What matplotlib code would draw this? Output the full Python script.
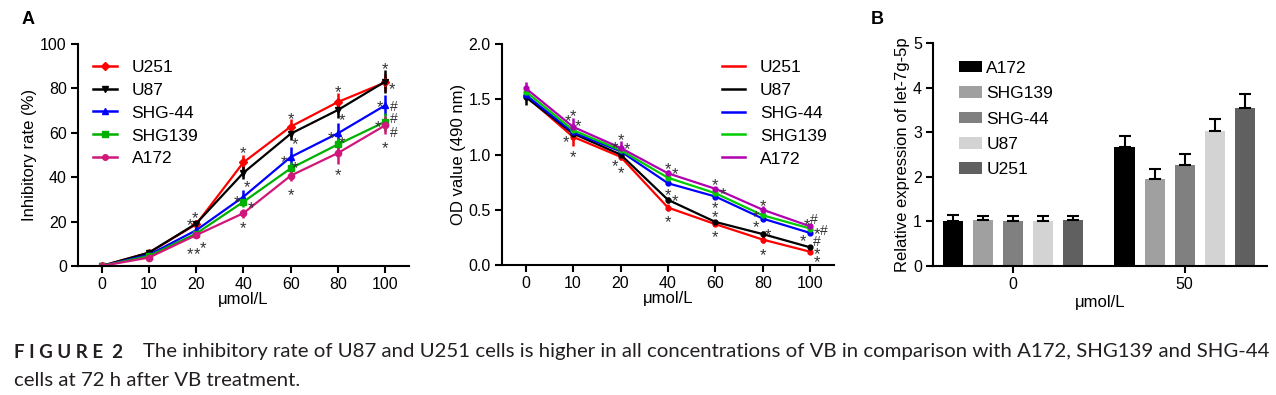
import numpy as np
import matplotlib
matplotlib.use('Agg')
import matplotlib.pyplot as plt
import matplotlib.transforms as mtransforms
from matplotlib.patches import Patch
from matplotlib.lines import Line2D

plt.rcParams['font.family'] = ['Liberation Sans', 'DejaVu Sans']

doses = ['0', '10', '20', '40', '60', '80', '100']
lines = ['U251', 'U87', 'SHG-44', 'SHG139', 'A172']
colors_a = ['#FF0000', '#000000', '#0000FF', '#00B000', '#D0177A']
colors_od = ['#FF0000', '#000000', '#0000FF', '#00CC00', '#B000B0']
markers = ['D', 'v', '^', 's', 'o']

# inhibitory rate (%)
inhib = [[0, 6.0, 18.8, 46.7, 62.8, 73.9, 82.7],
         [0, 6.0, 19.1, 42.0, 59.6, 70.3, 83.1],
         [0, 5.0, 16.1, 31.2, 49.1, 59.8, 72.4],
         [0, 4.5, 14.6, 28.9, 44.0, 54.8, 65.0],
         [0, 3.8, 13.9, 23.8, 40.7, 50.9, 63.4]]
inhib_err = [[0.5, 0.8, 1.5, 3.5, 3.5, 4.0, 4.0],
             [0.5, 0.8, 1.5, 3.0, 3.0, 3.5, 5.0],
             [0.5, 0.8, 1.5, 3.0, 4.5, 4.5, 4.5],
             [0.5, 0.8, 1.5, 2.5, 3.0, 3.0, 4.0],
             [0.5, 0.8, 1.5, 2.0, 2.5, 5.0, 4.0]]

# OD value (490 nm)
od = [[1.53, 1.16, 0.98, 0.52, 0.37, 0.23, 0.12],
      [1.52, 1.19, 1.00, 0.59, 0.39, 0.28, 0.16],
      [1.54, 1.20, 1.03, 0.74, 0.62, 0.42, 0.29],
      [1.57, 1.22, 1.04, 0.79, 0.65, 0.45, 0.33],
      [1.60, 1.25, 1.06, 0.83, 0.69, 0.50, 0.35]]
od_err = [[0.03, 0.08, 0.03, 0.03, 0.02, 0.03, 0.02],
          [0.07, 0.03, 0.03, 0.03, 0.02, 0.03, 0.02],
          [0.05, 0.03, 0.03, 0.02, 0.02, 0.02, 0.02],
          [0.03, 0.03, 0.03, 0.02, 0.02, 0.02, 0.02],
          [0.06, 0.08, 0.06, 0.03, 0.02, 0.03, 0.02]]

# significance marks: (x index, y value, text)
marks_a = [(1.86, 20.5, '*'), (1.98, 23.5, '*'), (1.86, 7.5, '*'), (2.02, 7.5, '*'), (2.15, 10, '*'),
           (3.0, 53, '*'), (3.08, 37.5, '*'), (2.86, 31, '*'), (3.15, 28, '*'), (3.0, 19, '*'),
           (4.0, 68, '*'), (4.09, 56.8, '*'), (3.86, 49, '*'), (4.09, 46, '*'), (4.0, 34, '*'),
           (5.0, 80.4, '*'), (5.09, 67.6, '*'), (4.86, 59.8, '*'), (5.09, 57.4, '*'), (5.0, 43, '*'),
           (6.0, 90.7, '*'), (6.14, 81.6, '*'), (5.89, 73.6, '*'), (6.19, 72.4, '#'),
           (5.84, 64.6, '*'), (6.19, 67, '#'), (6.19, 61, '#'), (6.0, 55, '*')]
marks_od = [(0.89, 1.34, '*'), (1.0, 1.39, '*'), (1.11, 1.30, '*'), (0.86, 1.15, '*'), (1.0, 1.02, '*'),
            (1.89, 1.10, '*'), (2.01, 1.17, '*'), (2.13, 1.09, '*'), (1.89, 0.94, '*'), (2.01, 0.875, '*'),
            (3.01, 0.91, '*'), (3.15, 0.86, '*'), (2.99, 0.67, '*'), (3.14, 0.62, '*'), (2.99, 0.43, '*'),
            (4.0, 0.76, '*'), (4.17, 0.685, '*'), (4.0, 0.56, '*'), (4.0, 0.47, '*'), (4.0, 0.29, '*'),
            (5.01, 0.57, '*'), (4.86, 0.47, '*'), (4.85, 0.38, '*'), (5.11, 0.31, '*'), (5.01, 0.13, '*'),
            (5.93, 0.40, '*'), (6.07, 0.43, '#'), (6.15, 0.32, '*'), (6.29, 0.33, '#'),
            (5.84, 0.26, '*'), (6.13, 0.23, '#'), (6.14, 0.14, '*'), (6.14, 0.07, '*')]

# panel B
groups = ['0', '50']
bar_lines = ['A172', 'SHG139', 'SHG-44', 'U87', 'U251']
bar_colors = ['#000000', '#A0A0A0', '#808080', '#D3D3D3', '#606060']
expr = [[1.01, 2.66], [1.03, 1.95], [1.00, 2.26], [1.00, 3.02], [1.03, 3.54]]
expr_err = [[0.14, 0.26], [0.10, 0.23], [0.11, 0.24], [0.13, 0.27], [0.09, 0.32]]

fig = plt.figure(figsize=(12.76, 3.95), dpi=100)
tfs = 11.5   # tick labels
lfs = 12     # axis labels
gfs = 12.5   # legends
mfs = 12     # significance marks


def style(ax):
    for s in ['top', 'right']:
        ax.spines[s].set_visible(False)
    for s in ['left', 'bottom']:
        ax.spines[s].set_linewidth(1.5)
    ax.tick_params(width=1.5, length=5, labelsize=tfs, colors='#000000', pad=3)


def put_marks(ax, marks):
    # shift so the glyph itself (not its text box) sits on the point
    for mx, my, t in marks:
        dy = -0.57 * mfs if t == '*' else -0.36 * mfs
        tr = mtransforms.offset_copy(ax.transData, fig=fig, y=dy, units='points')
        ax.text(mx, my, t, ha='center', va='baseline', fontsize=mfs if t == '*' else mfs - 2,
                color='#333333', transform=tr)


x = np.arange(len(doses))

ax1 = fig.add_axes([0.0611, 0.3266, 0.2594, 0.562])
for i in range(len(lines)):
    ax1.errorbar(x, inhib[i], yerr=inhib_err[i], color=colors_a[i], marker=markers[i],
                 markersize=4.5, lw=1.6, elinewidth=1.8, capsize=0)
put_marks(ax1, marks_a)
ax1.set_xlim(-0.5, 6.5)
ax1.set_ylim(0, 100)
ax1.set_yticks([0, 20, 40, 60, 80, 100])
ax1.set_xticks(x)
ax1.set_xticklabels(doses)
ax1.set_xlabel('μmol/L', fontsize=lfs, labelpad=0)
ax1.set_ylabel('Inhibitory rate (%)', fontsize=lfs, labelpad=2)
style(ax1)
handles_a = [Line2D([0], [0], color=c, lw=1.8, marker=m, markersize=4)
             for c, m in zip(colors_a, markers)]
ax1.legend(handles_a, lines, loc='upper left', bbox_to_anchor=(0.01, 0.985), frameon=False, fontsize=gfs,
           handlelength=1.35, labelspacing=0.45, handletextpad=0.85, borderaxespad=0.3)

ax2 = fig.add_axes([0.3934, 0.329, 0.2602, 0.5595])
for i in range(len(lines)):
    ax2.errorbar(x, od[i], yerr=od_err[i], color=colors_od[i], marker='o',
                 markersize=3.5, lw=1.6, elinewidth=1.8, capsize=0)
put_marks(ax2, marks_od)
ax2.set_xlim(-0.5, 6.5)
ax2.set_ylim(0, 2.0)
ax2.set_yticks([0, 0.5, 1.0, 1.5, 2.0])
ax2.set_yticklabels(['0.0', '0.5', '1.0', '1.5', '2.0'])
ax2.set_xticks(x)
ax2.set_xticklabels(doses)
ax2.set_xlabel('μmol/L', fontsize=lfs, labelpad=0)
ax2.set_ylabel('OD value (490 nm)', fontsize=lfs, labelpad=2)
style(ax2)
handles = [Line2D([0], [0], color=c, lw=1.8) for c in colors_od]
ax2.legend(handles, lines, loc='upper left', bbox_to_anchor=(0.625, 0.985), frameon=False, fontsize=gfs,
           handlelength=1.35, labelspacing=0.45, handletextpad=0.85, borderaxespad=0.3)

ax3 = fig.add_axes([0.7312, 0.3266, 0.2618, 0.5646])
gx = np.array([0.0, 1.0])
bw = 0.117
offs = (np.arange(5) - 2) * 0.175
for i in range(5):
    ax3.bar(gx + offs[i], expr[i], width=bw, color=bar_colors[i], zorder=2)
    ax3.errorbar(gx + offs[i], expr[i], yerr=[[0, 0], expr_err[i]], fmt='none', ecolor='#000000',
                 elinewidth=1.5, capsize=4, capthick=1.5, zorder=3)
ax3.set_xlim(-0.465, 1.48)
ax3.set_ylim(0, 5)
ax3.set_yticks([0, 1, 2, 3, 4, 5])
ax3.set_xticks(gx)
ax3.set_xticklabels(groups)
ax3.set_xlabel('μmol/L', fontsize=lfs, labelpad=2)
ax3.set_ylabel('Relative expression of let-7g-5p', fontsize=lfs, labelpad=2)
style(ax3)
handles_b = [Patch(facecolor=c) for c in bar_colors]
ax3.legend(handles_b, bar_lines, loc='upper left', bbox_to_anchor=(0.04, 0.975), frameon=False, fontsize=gfs,
           handlelength=1.35, handleheight=0.65, labelspacing=0.6, handletextpad=0.25, borderaxespad=0.3)

fig.text(22 / 1276, 1 - 20 / 395, 'A', fontsize=13, fontweight='bold', va='center')
fig.text(871 / 1276, 1 - 20 / 395, 'B', fontsize=13, fontweight='bold', va='center')

cap_font = ['Lato', 'DejaVu Sans']
cap_fs = 14.65
fig.text(14 / 1276, 1 - 352 / 395, 'F I G U R E  2', fontsize=13.5, fontweight='bold',
         family=cap_font, color='#231F20', va='center')
fig.text(143 / 1276, 1 - 352 / 395,
         'The inhibitory rate of U87 and U251 cells is higher in all concentrations of VB in comparison with A172, SHG139 and SHG-44',
         fontsize=cap_fs, family=cap_font, color='#231F20', va='center')
fig.text(14 / 1276, 1 - 381 / 395, 'cells at 72 h after VB treatment.',
         fontsize=cap_fs, family=cap_font, color='#231F20', va='center')

fig.savefig('out.png', dpi=100)
